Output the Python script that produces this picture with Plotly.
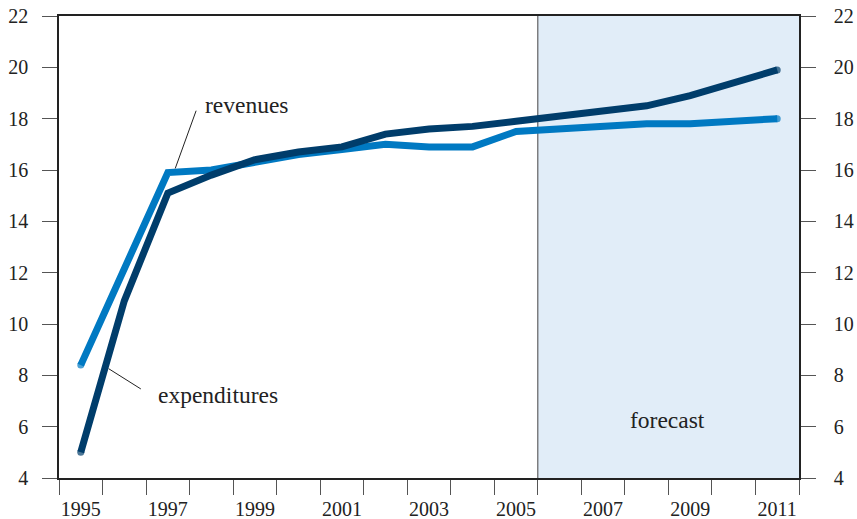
import plotly.graph_objects as go

years = list(range(1995, 2012))
expenditures = [5.0, 10.9, 15.1, 15.8, 16.4, 16.7, 16.9, 17.4, 17.6, 17.7, 17.9, 18.1, 18.3, 18.5, 18.9, 19.4, 19.9]
revenues = [8.4, 12.1, 15.9, 16.0, 16.3, 16.6, 16.8, 17.0, 16.9, 16.9, 17.5, 17.6, 17.7, 17.8, 17.8, 17.9, 18.0]
xtick_years = [1995, 1997, 1999, 2001, 2003, 2005, 2007, 2009, 2011]
ytick_vals = [4, 6, 8, 10, 12, 14, 16, 18, 20, 22]
forecast_start = 2005.5

DARK = "#003d6b"
LIGHT = "#0079c2"
FONT = "Liberation Serif"

def cap_sizes(n, w):
    return [w] + [0] * (n - 2) + [w]

fig = go.Figure()
fig.add_trace(go.Scatter(x=years, y=revenues, mode="lines+markers",
                         line=dict(color=LIGHT, width=7),
                         marker=dict(color=LIGHT, size=cap_sizes(len(years), 7), line=dict(width=0)),
                         showlegend=False, hoverinfo="skip"))
fig.add_trace(go.Scatter(x=years, y=expenditures, mode="lines+markers",
                         line=dict(color=DARK, width=7),
                         marker=dict(color=DARK, size=cap_sizes(len(years), 7), line=dict(width=0)),
                         showlegend=False, hoverinfo="skip"))
fig.add_trace(go.Scatter(x=years, y=revenues, yaxis="y2", mode="lines",
                         line=dict(width=0), opacity=0, showlegend=False, hoverinfo="skip"))

xr = [years[0] - 0.5, years[-1] + 0.5]
yr = [ytick_vals[0], ytick_vals[-1]]

fig.add_shape(type="rect", xref="x", yref="y", x0=forecast_start, x1=xr[1], y0=yr[0], y1=yr[1],
              fillcolor="#e1edf8", line=dict(width=0), layer="below")
fig.add_shape(type="line", xref="x", yref="y", x0=forecast_start, x1=forecast_start, y0=yr[0], y1=yr[1],
              line=dict(color="#444444", width=1), layer="below")

# leader lines
fig.add_shape(type="line", xref="x", yref="y", x0=1997.17, y0=16.06, x1=1997.65, y1=18.31,
              line=dict(color="#222222", width=1))
fig.add_shape(type="line", xref="x", yref="y", x0=1995.64, y0=8.26, x1=1996.38, y1=7.47,
              line=dict(color="#222222", width=1))

fig.add_annotation(x=1997.81, y=18.55, text="revenues", showarrow=False, xanchor="left", yanchor="middle",
                   font=dict(family=FONT, size=23.5, color="#222222"))
fig.add_annotation(x=1996.73, y=7.25, text="expenditures", showarrow=False, xanchor="left", yanchor="middle",
                   font=dict(family=FONT, size=23.5, color="#222222"))
fig.add_annotation(x=2008.48, y=6.26, text="forecast", showarrow=False, xanchor="center", yanchor="middle",
                   font=dict(family=FONT, size=23.5, color="#222222"))

fig.update_layout(
    width=857, height=519,
    margin=dict(l=59, r=58, t=16, b=41, autoexpand=False),
    paper_bgcolor="white", plot_bgcolor="white",
    font=dict(family=FONT, size=20, color="#222222"),
    xaxis=dict(range=xr, tickmode="array", tickvals=xtick_years, ticktext=[str(v) for v in xtick_years],
               ticks="outside", ticklen=12, tickcolor="rgba(0,0,0,0)", automargin=False,
               ticklabeloverflow="allow",
               minor=dict(tickmode="linear", tick0=xr[0], dtick=1, ticks="outside", ticklen=15,
                          tickcolor="#555555", tickwidth=1, showgrid=False),
               showline=True, linecolor="#222222", linewidth=1.5, mirror=True,
               showgrid=False, zeroline=False),
    yaxis=dict(range=yr, tickmode="array", tickvals=ytick_vals, ticks="outside", ticklen=15,
               tickcolor="#555555", ticklabelstandoff=10, automargin=False, ticklabeloverflow="allow",
               showline=True, linecolor="#222222", linewidth=1.5,
               showgrid=False, zeroline=False),
    yaxis2=dict(range=yr, overlaying="y", side="right", tickmode="array", tickvals=ytick_vals,
                ticks="outside", ticklen=15, tickcolor="#555555", ticklabelstandoff=14, automargin=False,
                ticklabeloverflow="allow",
                showline=True, linecolor="#222222", linewidth=1.5,
                showgrid=False, zeroline=False),
)

fig.write_html("out.html", config={"displayModeBar": False},
               post_script="document.body.style.margin='0px';document.body.style.overflow='hidden';")
